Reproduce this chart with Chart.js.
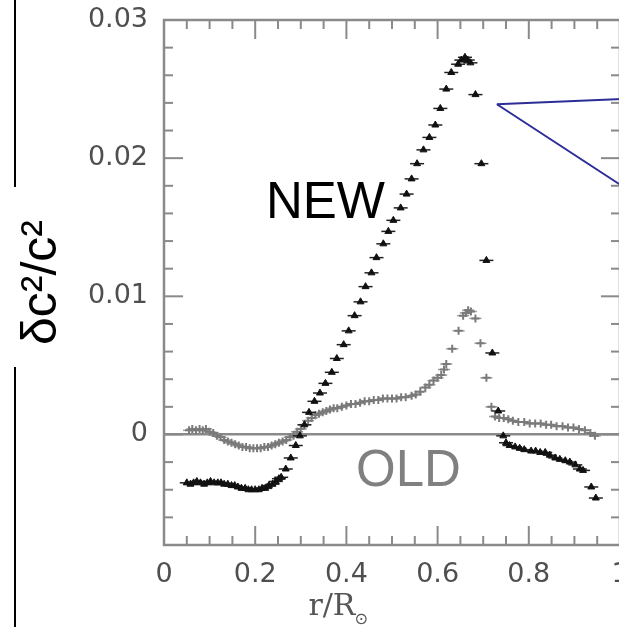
<!DOCTYPE html>
<html>
<head>
<meta charset="utf-8">
<script src="https://cdn.jsdelivr.net/npm/chart.js@4/dist/chart.umd.min.js"></script>
<style>
  html, body { margin: 0; padding: 0; background: #fff; overflow: hidden; }
  #wrap { width: 640px; height: 627px; }
</style>
</head>
<body>
<div id="wrap"><canvas id="profil" width="640" height="627"></canvas></div>
<script>
// relative sound-speed difference (sun - model) against fractional radius

// new abundances
const newR = [
  0.050, 0.058, 0.065, 0.072, 0.080, 0.088, 0.095, 0.102, 0.110, 0.118,
  0.125, 0.132, 0.140, 0.148, 0.155, 0.162, 0.170, 0.178, 0.185, 0.192,
  0.200, 0.208, 0.215, 0.222, 0.230, 0.238, 0.245, 0.252, 0.257, 0.267,
  0.278, 0.289, 0.298, 0.308, 0.318, 0.330, 0.342, 0.354, 0.368, 0.379,
  0.394, 0.405, 0.418, 0.431, 0.442, 0.455, 0.466, 0.481, 0.492, 0.503,
  0.519, 0.532, 0.543, 0.555, 0.569, 0.582, 0.595, 0.606, 0.619, 0.630,
  0.645, 0.652, 0.660, 0.666, 0.672, 0.683, 0.696, 0.707, 0.720, 0.733,
  0.744, 0.750, 0.758, 0.770, 0.780, 0.790, 0.805, 0.815, 0.825, 0.836,
  0.846, 0.858, 0.868, 0.880, 0.890, 0.902, 0.912, 0.919, 0.937, 0.947
];
const newDc = [
  -0.0035, -0.0036, -0.0035, -0.0034, -0.0035, -0.0036, -0.0035, -0.0034, -0.0035, -0.0035,
  -0.0035, -0.0036, -0.0036, -0.0037, -0.0037, -0.0038, -0.0039, -0.0039, -0.0040, -0.0040,
  -0.0040, -0.0040, -0.0039, -0.0039, -0.0037, -0.0036, -0.0034, -0.0032, -0.0031, -0.0025,
  -0.0017, -0.0008, -0.0001, 0.0007, 0.0016, 0.0024, 0.0030, 0.0037, 0.0045, 0.0055,
  0.0065, 0.0075, 0.0086, 0.0096, 0.0107, 0.0117, 0.0128, 0.0138, 0.0147, 0.0155,
  0.0164, 0.0174, 0.0185, 0.0196, 0.0206, 0.0215, 0.0224, 0.0236, 0.0250, 0.0262,
  0.0268, 0.0271, 0.0273, 0.0271, 0.0269, 0.0246, 0.0196, 0.0126, 0.0059, 0.0017,
  -0.0001, -0.0006, -0.0008, -0.0009, -0.0010, -0.0011, -0.0012, -0.0012, -0.0013, -0.0013,
  -0.0015, -0.0017, -0.0018, -0.0019, -0.0020, -0.0022, -0.0025, -0.0026, -0.0038, -0.0046
];

// old abundances
const oldR = [
  0.055, 0.062, 0.070, 0.078, 0.085, 0.092, 0.100, 0.108, 0.116, 0.124,
  0.132, 0.140, 0.148, 0.156, 0.164, 0.172, 0.180, 0.188, 0.196, 0.204,
  0.212, 0.220, 0.228, 0.236, 0.244, 0.252, 0.260, 0.268, 0.276, 0.284,
  0.292, 0.300, 0.308, 0.316, 0.324, 0.332, 0.340, 0.348, 0.356, 0.364,
  0.372, 0.380, 0.390, 0.400, 0.410, 0.420, 0.430, 0.440, 0.450, 0.460,
  0.470, 0.480, 0.490, 0.500, 0.510, 0.520, 0.530, 0.543, 0.552, 0.562,
  0.573, 0.582, 0.591, 0.600, 0.608, 0.614, 0.619, 0.632, 0.646, 0.656,
  0.662, 0.667, 0.673, 0.683, 0.694, 0.707, 0.718, 0.726, 0.735, 0.745,
  0.755, 0.765, 0.777, 0.790, 0.802, 0.814, 0.826, 0.838, 0.849, 0.861,
  0.874, 0.886, 0.898, 0.910, 0.923, 0.935, 0.945
];
const oldDc = [
  0.0003, 0.0004, 0.0003, 0.0004, 0.0003, 0.0004, 0.0002, 0.0001, -0.0001, -0.0002,
  -0.0004, -0.0005, -0.0006, -0.0007, -0.0008, -0.0009, -0.0009, -0.0010, -0.0010, -0.0010,
  -0.0010, -0.0009, -0.0009, -0.0008, -0.0007, -0.0006, -0.0005, -0.0004, -0.0002, -0.0001,
  0.0002, 0.0004, 0.0007, 0.0010, 0.0012, 0.0014, 0.0015, 0.0016, 0.0017, 0.0018,
  0.0019, 0.0019, 0.0020, 0.0021, 0.0022, 0.0022, 0.0023, 0.0024, 0.0024, 0.0025,
  0.0025, 0.0026, 0.0026, 0.0026, 0.0026, 0.0027, 0.0027, 0.0028, 0.0029, 0.0031,
  0.0034, 0.0036, 0.0039, 0.0041, 0.0043, 0.0047, 0.0051, 0.0062, 0.0075, 0.0086,
  0.0088, 0.0090, 0.0089, 0.0084, 0.0066, 0.0041, 0.0020, 0.0013, 0.0012, 0.0012,
  0.0011, 0.0010, 0.0009, 0.0009, 0.0008, 0.0008, 0.0008, 0.0007, 0.0007, 0.0006,
  0.0006, 0.0005, 0.0005, 0.0004, 0.0003, 0.0001, -0.0001
];

const xTickLabels = [0, 0.2, 0.4, 0.6, 0.8, 1];
const yTickLabels = [0, 0.01, 0.02, 0.03];

// callout lines toward the tachocline bump (start r, start dc, end r, end dc)
const callout = [
  [0.730, 0.0239, 1.06, 0.02435],
  [0.730, 0.0239, 1.06, 0.0168]
];

const pts = (xs, ys) => xs.map((r, i) => ({ x: r, y: ys[i] }));

const GREY = '#8a8a8a';
const TICK_FONT = { family: '"DejaVu Sans", sans-serif', size: 27 };

const frame = {
  id: 'frame',
  afterDraw(chart) {
    const { ctx, chartArea: a, scales: { x, y } } = chart;
    const seg = (x1, y1, x2, y2) => { ctx.beginPath(); ctx.moveTo(x1, y1); ctx.lineTo(x2, y2); ctx.stroke(); };
    ctx.save();

    // box + inward ticks on all four sides
    ctx.strokeStyle = GREY;
    ctx.lineWidth = 2.5;
    ctx.strokeRect(a.left, a.top, a.right - a.left, a.bottom - a.top);
    ctx.lineWidth = 2;
    for (let i = 1; i < 20; i++) {
      const px = x.getPixelForValue(i * 0.05);
      const len = i % 4 === 0 ? 19 : 9;
      seg(px, a.bottom, px, a.bottom - len);
      seg(px, a.top, px, a.top + len);
    }
    for (let i = -3; i < 15; i++) {
      const py = y.getPixelForValue(i * 0.002);
      const len = i % 5 === 0 ? 19 : 9;
      seg(a.left, py, a.left + len, py);
      seg(a.right, py, a.right - len, py);
    }

    // callout
    ctx.strokeStyle = '#2d2d98';
    ctx.lineWidth = 2;
    callout.forEach(c => seg(x.getPixelForValue(c[0]), y.getPixelForValue(c[1]),
                             x.getPixelForValue(c[2]), y.getPixelForValue(c[3])));

    // series names
    ctx.font = '51px "Liberation Sans", Arial, sans-serif';
    ctx.textBaseline = 'alphabetic';
    ctx.fillStyle = '#000';
    ctx.fillText('NEW', 266, 218);
    ctx.fillStyle = '#808080';
    ctx.fillText('OLD', 356, 486);

    // x title r/R(sun)
    ctx.fillStyle = '#555';
    ctx.font = '30px "DejaVu Serif", serif';
    const tx = x.getPixelForValue(0.4) - 38;
    ctx.fillText('r/R', tx, 615);
    const w = ctx.measureText('r/R').width;
    ctx.font = '16px "DejaVu Sans", sans-serif';
    ctx.fillText('⊙', tx + w - 1, 624);

    // panel rule on the far left
    ctx.strokeStyle = '#000';
    ctx.lineWidth = 2;
    seg(15, 0, 15, 187);
    seg(15, 367, 15, 627);
    ctx.restore();
  }
};

new Chart(document.getElementById('profil'), {
  type: 'scatter',
  data: {
    datasets: [
      { label: 'NEW', data: pts(newR, newDc), pointStyle: 'triangle', pointRadius: 4,
        backgroundColor: '#111', borderColor: '#111', borderWidth: 1, order: 0 },
      { label: 'NEW bars', data: pts(newR, newDc), pointStyle: 'line', pointRadius: 7,
        borderColor: '#222', borderWidth: 1.5, order: 1 },
      { label: 'OLD', data: pts(oldR, oldDc), pointStyle: 'cross', pointRadius: 4,
        borderColor: '#7a7a7a', borderWidth: 2, order: 2 },
      { label: 'OLD bars', data: pts(oldR, oldDc), pointStyle: 'line', pointRadius: 6,
        borderColor: '#999', borderWidth: 1.5, order: 3 }
    ]
  },
  options: {
    responsive: false,
    animation: false,
    events: [],
    layout: { padding: { top: 20, right: 20, left: 0, bottom: 0 } },
    plugins: { legend: { display: false }, tooltip: { enabled: false } },
    scales: {
      x: {
        type: 'linear', min: 0, max: 1,
        afterBuildTicks: s => { s.ticks = xTickLabels.map(v => ({ value: v })); },
        afterFit: s => { s.height = 82; s.paddingLeft = 0; s.paddingRight = 0; },
        grid: { display: false, drawTicks: false },
        border: { display: false },
        ticks: { padding: 14, color: '#4f4f4f', maxRotation: 0, font: TICK_FONT,
                 callback: v => String(v) }
      },
      y: {
        type: 'linear', min: -0.008, max: 0.03,
        afterBuildTicks: s => { s.ticks = yTickLabels.map(v => ({ value: v })); },
        afterFit: s => { s.width = 164; s.paddingTop = 0; s.paddingBottom = 0; },
        grid: { drawTicks: false, lineWidth: 2.5,
                color: c => (c.tick && c.tick.value === 0 ? GREY : 'transparent') },
        border: { display: false },
        ticks: { padding: 16, color: '#4f4f4f', font: TICK_FONT,
                 callback: v => String(v) },
        title: { display: true, text: 'δc²/c²', color: '#000',
                 font: { family: '"Liberation Sans", Arial, sans-serif', size: 50 },
                 padding: { top: 12, bottom: 0 } }
      }
    }
  },
  plugins: [frame]
});
</script>
</body>
</html>
